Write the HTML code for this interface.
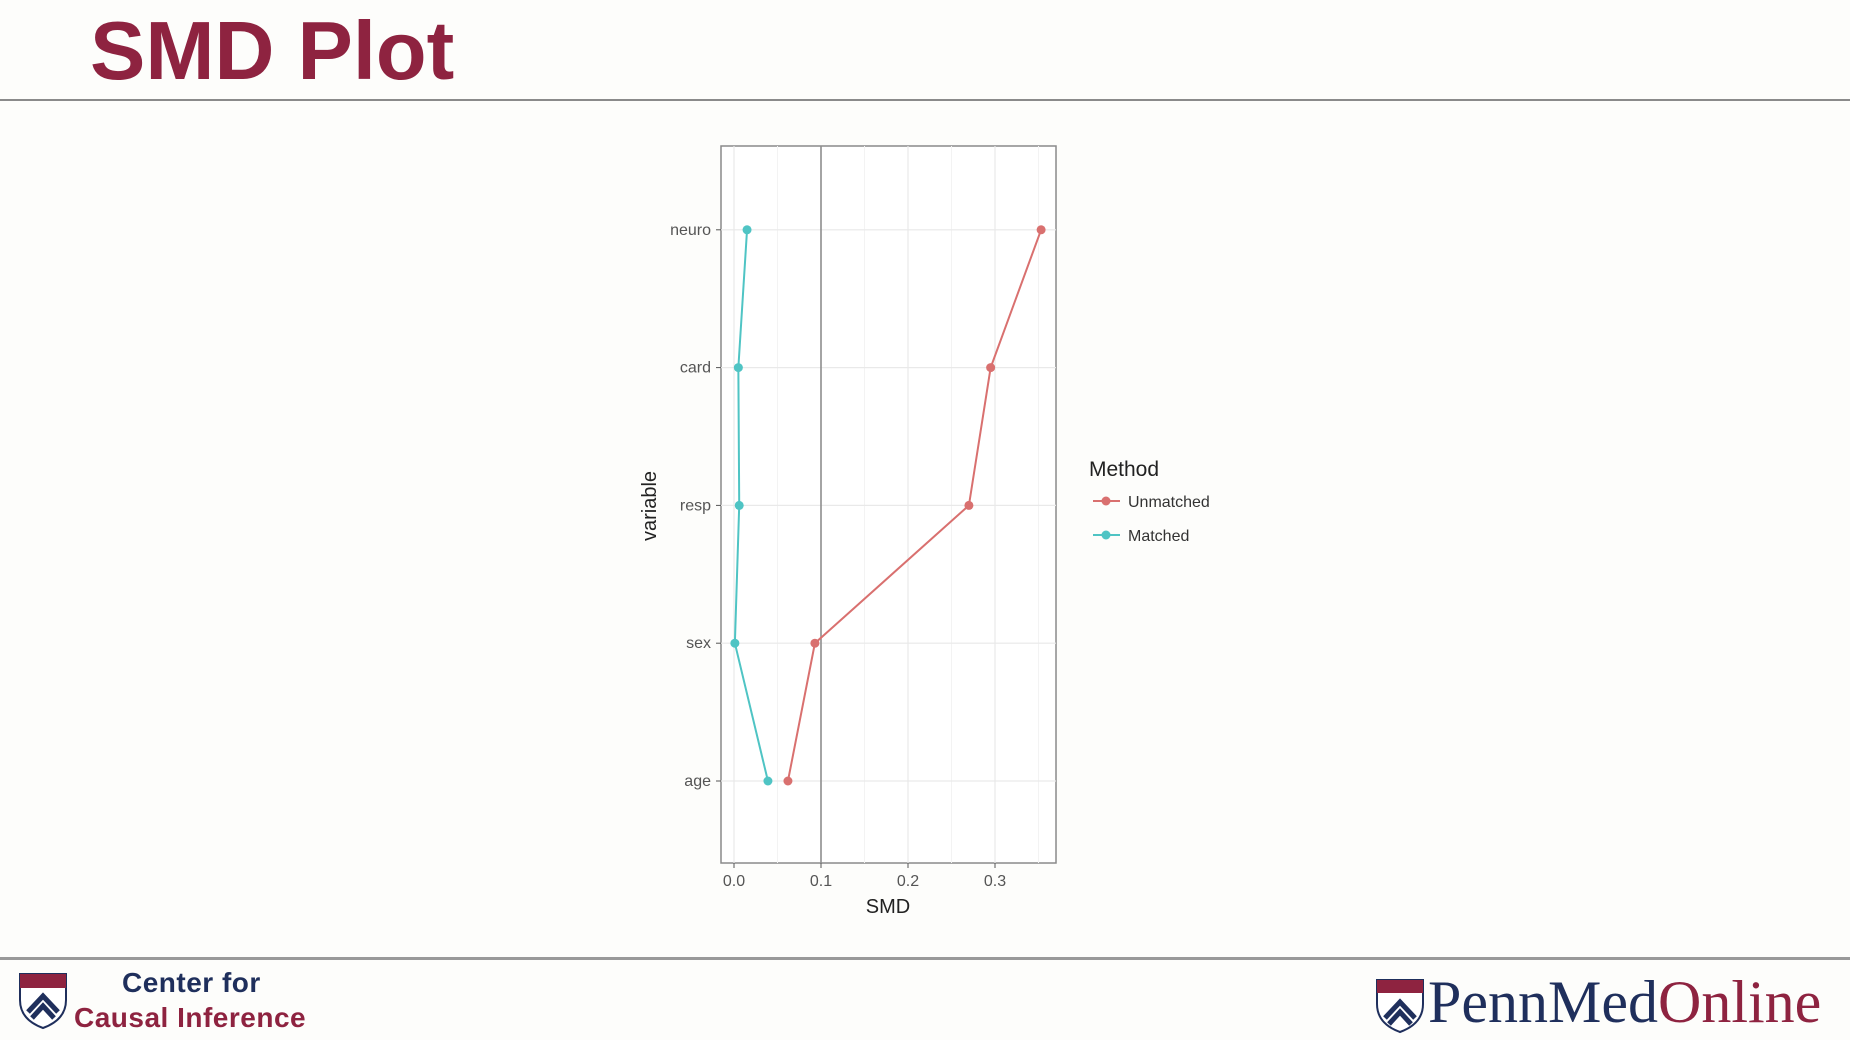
<!DOCTYPE html>
<html><head><meta charset="utf-8"><style>
body{margin:0;width:1850px;height:1040px;background:#fdfdfb;position:relative;overflow:hidden;font-family:"Liberation Sans",sans-serif}
.t{position:absolute;white-space:nowrap}
</style></head><body>
<div class="t" style="left:90px;top:3px;font-size:83px;font-weight:bold;color:#8e2340">SMD Plot</div>
<div style="position:absolute;left:0;top:99px;width:1850px;height:2px;background:#8a8a8a"></div>
<div style="position:absolute;left:0;top:957px;width:1850px;height:3px;background:#999"></div>
<svg style="position:absolute;left:18px;top:972px" width="50" height="58" viewBox="0 0 50 58"><path d="M2 2h46v26c0 16-12 24-23 28C14 52 2 44 2 28z" fill="#fff" stroke="#1f2f5c" stroke-width="2"/><rect x="2" y="2" width="46" height="14" fill="#8e2340"/><path d="M10 40l15-16 15 16M14 46l11-12 11 12" stroke="#1f2f5c" stroke-width="5" fill="none"/></svg>
<div class="t" style="left:122px;top:967px;font-size:28px;font-weight:bold;color:#1f2f5c;letter-spacing:0.5px">Center for</div>
<div class="t" style="left:74px;top:1002px;font-size:28px;font-weight:bold;color:#8e2340;letter-spacing:0.5px">Causal Inference</div>
<svg style="position:absolute;left:1375px;top:978px" width="50" height="56" viewBox="0 0 50 56"><path d="M2 2h46v24c0 16-12 24-23 28C14 50 2 42 2 26z" fill="#fff" stroke="#1f2f5c" stroke-width="2"/><rect x="2" y="2" width="46" height="13" fill="#8e2340"/><path d="M10 40l15-16 15 16M14 46l11-12 11 12" stroke="#1f2f5c" stroke-width="5" fill="none"/></svg>
<div class="t" style="left:1428px;top:968px;font-family:'Liberation Serif',serif;font-size:60px;letter-spacing:0px;color:#1f2f5c">PennMed<span style="color:#8e2340">Online</span></div>
<svg id="chart" width="1850" height="1040" style="position:absolute;left:0;top:0"></svg>
<script>
const categories=["age","sex","resp","card","neuro"];
const unmatched=[0.062,0.093,0.270,0.295,0.353];
const matched=[0.039,0.001,0.006,0.005,0.015];
const xTicks=[0,0.1,0.2,0.3];
const xTickLabels=["0.0","0.1","0.2","0.3"];
const NS="http://www.w3.org/2000/svg",svg=document.getElementById("chart");
const L=721,R=1056,T=146,B=863;
const x=v=>734+v*870;
const y=i=>781-i*137.8;
function mk(tag,a){const e=document.createElementNS(NS,tag);for(const k in a)e.setAttribute(k,a[k]);svg.appendChild(e);return e;}
let e=mk("rect",{x:L,y:T,width:R-L,height:B-T,fill:"#fff",stroke:"#8a8a8a","stroke-width":1.5});


for(let v=0.05;v<0.36;v+=0.1){e=mk("line",{x1:x(v),x2:x(v),y1:T,y2:B,stroke:"#f3f3f3","stroke-width":1});}
xTicks.forEach((v,i)=>{
e=mk("line",{x1:x(v),x2:x(v),y1:T,y2:B,stroke:"#e9e9e9","stroke-width":1.2});


e=mk("line",{x1:x(v),x2:x(v),y1:B,y2:B+5,stroke:"#555"});


e=mk("text",{x:x(v),y:B+23,"text-anchor":"middle","font-size":16,fill:"#555","font-family":"Liberation Sans"});e.textContent=xTickLabels[i];


});
categories.forEach((c,i)=>{
e=mk("line",{x1:L,x2:R,y1:y(i),y2:y(i),stroke:"#e9e9e9","stroke-width":1.2});


e=mk("line",{x1:L-5,x2:L,y1:y(i),y2:y(i),stroke:"#555"});


e=mk("text",{x:L-10,y:y(i)+5,"text-anchor":"end","font-size":16,fill:"#555","font-family":"Liberation Sans"});e.textContent=c;


});
e=mk("line",{x1:x(0.1),x2:x(0.1),y1:T,y2:B,stroke:"#888","stroke-width":1.5});


function series(vals,col,name){
e=mk("polyline",{points:vals.map((v,i)=>x(v)+","+y(i)).join(" "),fill:"none",stroke:col,"stroke-width":2});


vals.forEach((v,i)=>{e=mk("circle",{cx:x(v),cy:y(i),r:4.5,fill:col});

});
}
series(unmatched,"#d9706f","unmatched");
series(matched,"#4fc4c4","matched");
e=mk("text",{x:888,y:913,"text-anchor":"middle","font-size":20,fill:"#222","font-family":"Liberation Sans"});e.textContent="SMD";


e=mk("text",{x:656,y:506,"text-anchor":"middle","font-size":20,fill:"#222","font-family":"Liberation Sans",transform:"rotate(-90 656 506)"});e.textContent="variable";


e=mk("text",{x:1089,y:476,"font-size":21,fill:"#222","font-family":"Liberation Sans"});e.textContent="Method";


[["Unmatched","#d9706f",501],["Matched","#4fc4c4",535]].forEach(d=>{
e=mk("line",{x1:1093,x2:1120,y1:d[2],y2:d[2],stroke:d[1],"stroke-width":2});


e=mk("circle",{cx:1106,cy:d[2],r:4.5,fill:d[1]});


e=mk("text",{x:1128,y:d[2]+6,"font-size":16,fill:"#333","font-family":"Liberation Sans"});e.textContent=d[0];


});
</script>
</body></html>
